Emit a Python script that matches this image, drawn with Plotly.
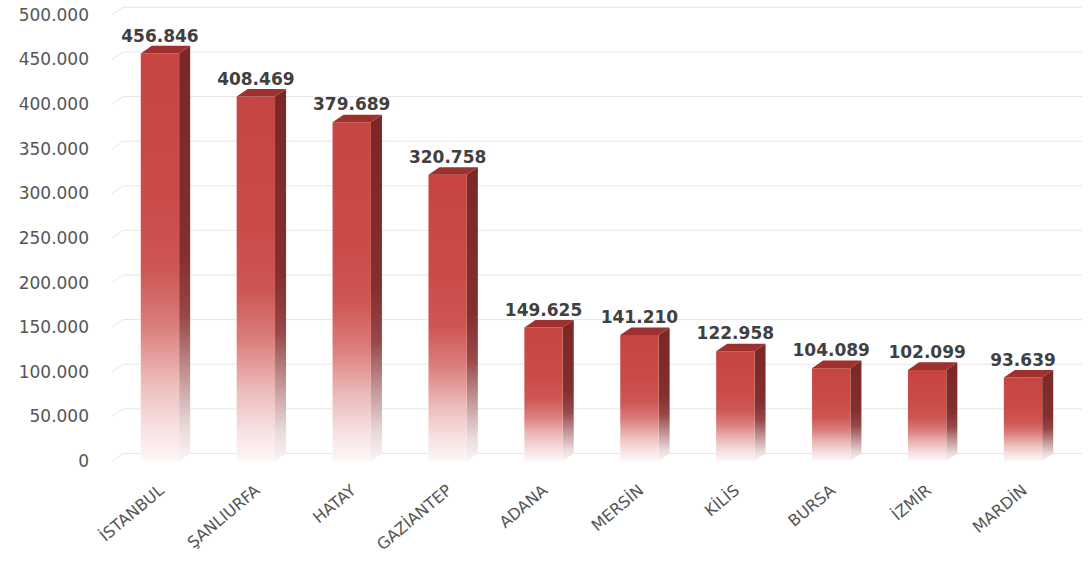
import plotly.graph_objects as go

# Registered population by province
cities = ["İSTANBUL", "ŞANLIURFA", "HATAY", "GAZİANTEP", "ADANA",
          "MERSİN", "KİLİS", "BURSA", "İZMİR", "MARDİN"]
values = [456846, 408469, 379689, 320758, 149625,
          141210, 122958, 104089, 102099, 93639]

y_tick_values = [0, 50000, 100000, 150000, 200000, 250000,
                 300000, 350000, 400000, 450000, 500000]
y_tick_labels = ["0", "50.000", "100.000", "150.000", "200.000", "250.000",
                 "300.000", "350.000", "400.000", "450.000", "500.000"]


def tr_number(v):
    return f"{v:,}".replace(",", ".")


# pseudo-3D box geometry (x in category units, y in value units)
HALF_W = 0.2
DEPTH_X = 0.115
DEPTH_Y = 8500
X_MIN, X_MAX = -0.5, len(cities) - 0.5 + DEPTH_X
Y_MAX = 510000

FRONT_SCALE = [
    [0.0, "#fdf7f7"],
    [0.08, "#f7e2e2"],
    [0.2, "#ebb9b8"],
    [0.33, "#db7f7d"],
    [0.47, "#cd5653"],
    [0.65, "#c94b48"],
    [1.0, "#c64543"],
]
SIDE_SCALE = [
    [0.0, "#faf4f4"],
    [0.08, "#eadada"],
    [0.2, "#c49a99"],
    [0.35, "#974746"],
    [0.5, "#832f2d"],
    [1.0, "#7a2725"],
]
TOP_COLOR = "#9e302e"
GRID_COLOR = "#e6e6e6"

fig = go.Figure()

# back-wall gridlines with a short receding stub at the left
for v in y_tick_values:
    fig.add_trace(go.Scatter(
        x=[X_MIN, X_MIN + DEPTH_X, X_MAX],
        y=[v, v + DEPTH_Y, v + DEPTH_Y],
        mode="lines", line=dict(color=GRID_COLOR, width=1),
        hoverinfo="skip", showlegend=False,
    ))

for i, v in enumerate(values):
    x0, x1 = i - HALF_W, i + HALF_W
    # side face
    fig.add_trace(go.Scatter(
        x=[x1, x1 + DEPTH_X, x1 + DEPTH_X, x1, x1],
        y=[0, DEPTH_Y, v + DEPTH_Y, v, 0],
        mode="lines", line=dict(width=0), fill="toself",
        fillgradient=dict(type="vertical", colorscale=SIDE_SCALE),
        hoverinfo="skip", showlegend=False,
    ))
    # front face
    fig.add_trace(go.Scatter(
        x=[x0, x1, x1, x0, x0],
        y=[0, 0, v, v, 0],
        mode="lines", line=dict(width=0), fill="toself",
        fillgradient=dict(type="vertical", colorscale=FRONT_SCALE),
        hoverinfo="skip", showlegend=False,
    ))
    # top face
    fig.add_trace(go.Scatter(
        x=[x0, x1, x1 + DEPTH_X, x0 + DEPTH_X, x0],
        y=[v, v, v + DEPTH_Y, v + DEPTH_Y, v],
        mode="lines", line=dict(width=0), fill="toself",
        fillcolor=TOP_COLOR,
        hoverinfo="skip", showlegend=False,
    ))

# value labels above each bar
fig.add_trace(go.Scatter(
    x=list(range(len(cities))),
    y=[v + DEPTH_Y for v in values],
    text=[tr_number(v) for v in values],
    mode="text", textposition="top center", cliponaxis=False,
    textfont=dict(family="DejaVu Sans", size=17, color="#404040", weight="bold"),
    hoverinfo="skip", showlegend=False,
))

fig.update_layout(
    template="none",
    width=1088, height=561,
    margin=dict(l=112, r=6, t=6, b=100),
    paper_bgcolor="white", plot_bgcolor="white",
    showlegend=False,
    font=dict(family="DejaVu Sans", color="#595959"),
    xaxis=dict(
        range=[X_MIN, X_MAX], showgrid=False, zeroline=False, showline=False,
        tickmode="array", tickvals=list(range(len(cities))), ticktext=cities,
        tickangle=-40, ticks="", tickfont=dict(size=16, color="#555555"),
        ticklabelstandoff=16, automargin=False, fixedrange=True,
    ),
    yaxis=dict(
        range=[0, Y_MAX], showgrid=False, zeroline=False, showline=False,
        tickmode="array", tickvals=y_tick_values, ticktext=y_tick_labels,
        ticks="", tickfont=dict(size=17, color="#555555"),
        ticklabelstandoff=22, automargin=False, fixedrange=True,
    ),
)

fig.write_html("out.html")
